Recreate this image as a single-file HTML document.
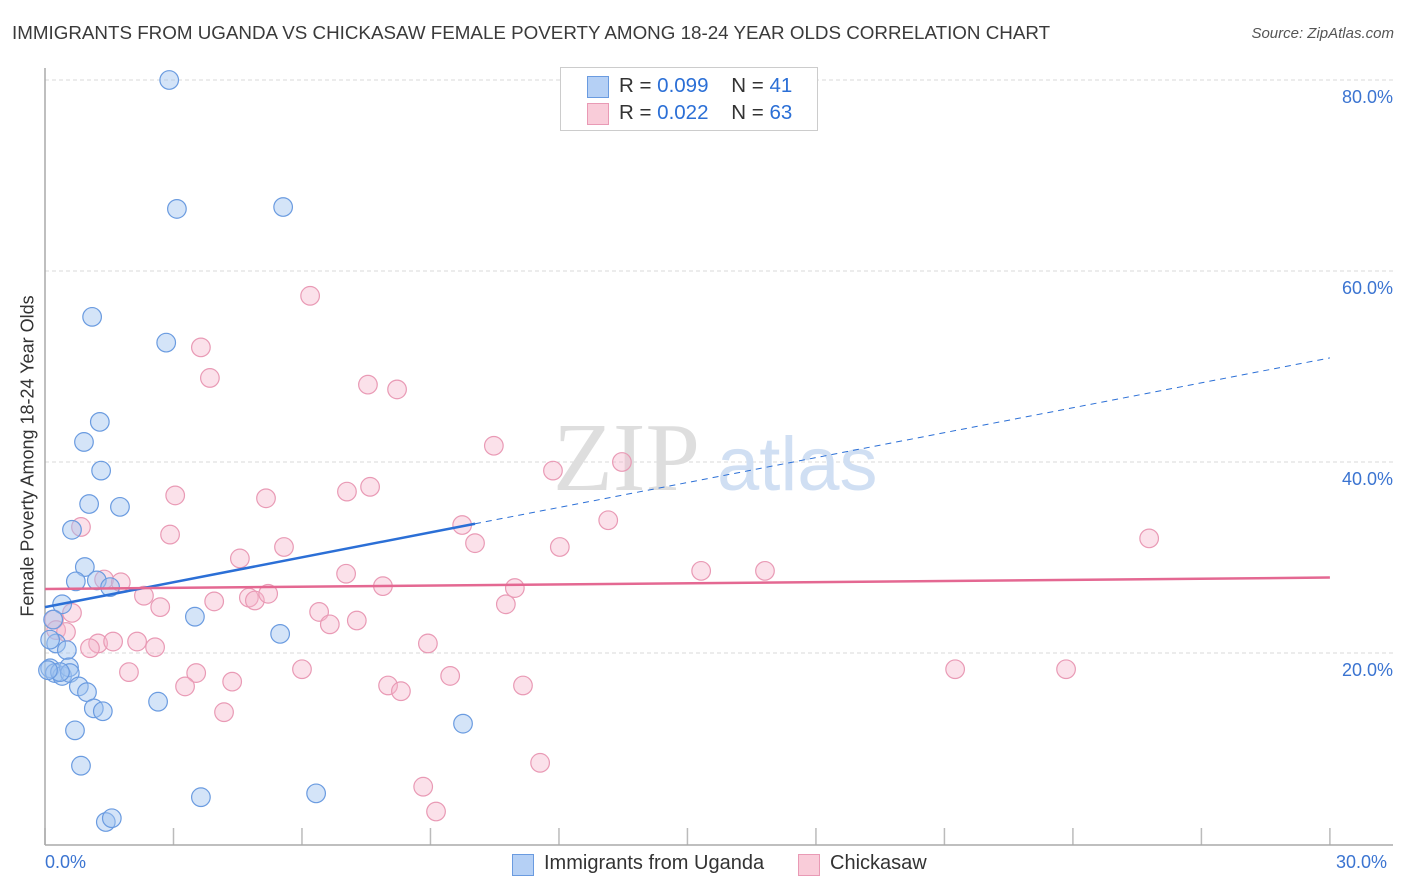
<!DOCTYPE html>
<html><head><meta charset="utf-8"><style>
body{margin:0;background:#fff;font-family:"Liberation Sans",sans-serif}
#c{position:relative;width:1406px;height:892px}
.t{position:absolute;white-space:nowrap}
</style></head><body>
<div id="c">
<div class="t" style="left:12px;top:22px;font-size:18.8px;color:#3a3a3a">IMMIGRANTS FROM UGANDA VS CHICKASAW FEMALE POVERTY AMONG 18-24 YEAR OLDS CORRELATION CHART</div>
<div class="t" style="right:12px;top:25px;font-size:15px;color:#555;font-style:italic">Source: ZipAtlas.com</div>
<svg id="s" width="1406" height="892" style="position:absolute;left:0;top:0"></svg>
</div>
<script>
const xTicks=[0,3,6,9,12,15,18,21,24,27,30];
const yTicks=[20,40,60,80];
const yTickLabels=["20.0%","40.0%","60.0%","80.0%"];
const ugandaX=[2.90,3.08,5.56,1.10,2.83,1.28,0.91,1.31,1.03,1.75,0.63,0.93,0.72,1.21,1.52,0.40,3.50,5.49,0.19,0.26,0.51,0.12,0.23,0.40,0.56,0.58,0.79,0.98,1.14,1.35,2.64,0.70,9.76,0.84,3.64,6.33,1.42,1.56,0.12,0.35,0.07];
const ugandaY=[80.0,66.5,66.7,55.2,52.5,44.2,42.1,39.1,35.6,35.3,32.9,29.0,27.5,27.6,26.9,25.1,23.8,22.0,23.5,21.0,20.3,18.4,17.9,17.6,18.5,17.9,16.5,15.9,14.2,13.9,14.9,11.9,12.6,8.2,4.9,5.3,2.3,2.7,21.4,18.0,18.2];
const chickX=[6.19,3.64,3.85,7.54,8.22,10.48,11.86,13.47,3.04,5.16,7.05,7.59,9.74,13.15,25.78,0.84,2.92,10.04,12.02,4.55,5.58,7.03,15.32,16.81,1.38,1.77,7.89,10.97,2.31,3.95,4.76,4.90,5.21,2.69,6.40,10.76,0.63,0.21,0.26,0.49,6.65,7.28,1.24,1.05,1.59,2.15,2.57,8.94,1.96,3.53,6.00,4.37,3.27,8.01,8.31,9.46,11.16,4.18,21.25,23.84,11.56,8.83,9.13];
const chickY=[57.4,52.0,48.8,48.1,47.6,41.7,39.1,40.0,36.5,36.2,36.9,37.4,33.4,33.9,32.0,33.2,32.4,31.5,31.1,29.9,31.1,28.3,28.6,28.6,27.7,27.4,27.0,26.8,26.0,25.4,25.8,25.5,26.2,24.8,24.3,25.1,24.2,23.5,22.4,22.2,23.0,23.4,21.0,20.5,21.2,21.2,20.6,21.0,18.0,17.9,18.3,17.0,16.5,16.6,16.0,17.6,16.6,13.8,18.3,18.3,8.5,6.0,3.4];
const ugTrend=[24.8,50.9], ugSolidEnd=10.04;
const chTrend=[26.7,27.9];
const X=v=>45+v*42.83, Y=v=>844-v*9.55;
const s=document.getElementById('s'),NS='http://www.w3.org/2000/svg';
function el(t,a){const e=document.createElementNS(NS,t);for(const k in a)e.setAttribute(k,a[k]);s.appendChild(e);return e;}
yTicks.forEach((v,i)=>{
 const g=el('line',{x1:45,x2:1393,y1:Y(v),y2:Y(v),stroke:'#d8d8d8','stroke-dasharray':'4,3'});
 
 
 const t=el('text',{x:1393,y:Y(v)+23,'text-anchor':'end','font-size':18,fill:'#3b74d1','font-family':'Liberation Sans'});
 t.textContent=yTickLabels[i];
 
 
});
xTicks.forEach(v=>{
 const l=el('line',{x1:X(v),x2:X(v),y1:828,y2:845,stroke:'#bbb','stroke-width':1.5});
 
 
});
el('line',{x1:45,x2:45,y1:68,y2:845,stroke:'#aaa','stroke-width':1.5});
el('line',{x1:45,x2:1393,y1:845,y2:845,stroke:'#aaa','stroke-width':1.5});
const wm=el('text',{x:553,y:490,'font-size':98,fill:'#dedede','font-family':'Liberation Serif'});wm.textContent='ZIP';

const wm2=el('text',{x:717,y:490,'font-size':76,fill:'#d0dff3','font-family':'Liberation Sans'});wm2.textContent='atlas';

chickX.forEach((v,i)=>{const c=el('circle',{cx:X(v),cy:Y(chickY[i]),r:9.3,fill:'rgba(246,180,202,0.4)',stroke:'#e99ab5','stroke-width':1.2});
 
 });
ugandaX.forEach((v,i)=>{const c=el('circle',{cx:X(v),cy:Y(ugandaY[i]),r:9.3,fill:'rgba(160,196,240,0.45)',stroke:'#6a9be0','stroke-width':1.2});
 
 });
const ugAt=v=>ugTrend[0]+(ugTrend[1]-ugTrend[0])*v/30;
el('line',{x1:X(0),y1:Y(ugAt(0)),x2:X(ugSolidEnd),y2:Y(ugAt(ugSolidEnd)),stroke:'#2b6fd6','stroke-width':2.5});
el('line',{x1:X(ugSolidEnd),y1:Y(ugAt(ugSolidEnd)),x2:X(30),y2:Y(ugAt(30)),stroke:'#2b6fd6','stroke-width':1,'stroke-dasharray':'6,5'});
el('line',{x1:X(0),y1:Y(chTrend[0]),x2:X(30),y2:Y(chTrend[1]),stroke:'#e46892','stroke-width':2.5});
</script>
<div class="t" style="left:28px;top:456px;font-size:18px;color:#333;transform:translate(-50%,-50%) rotate(-90deg)">Female Poverty Among 18-24 Year Olds</div>
<div class="t" style="left:45px;top:852px;font-size:18px;color:#3b74d1">0.0%</div>
<div class="t" style="left:1336px;top:852px;font-size:18px;color:#3b74d1">30.0%</div>
<div style="position:absolute;left:560px;top:67px;width:256px;height:62px;border:1px solid #ccc;background:#fff;font-size:20.5px;color:#333">
 <div style="position:absolute;left:26px;top:8px;width:20px;height:20px;background:#b5d0f5;border:1px solid #6a9be0"></div>
 <div class="t" style="left:58px;top:6px">R = <span style="color:#2b6fd6">0.099</span>&nbsp;&nbsp;&nbsp; N = <span style="color:#2b6fd6">41</span></div>
 <div style="position:absolute;left:26px;top:35px;width:20px;height:20px;background:#f9ccd9;border:1px solid #e99ab5"></div>
 <div class="t" style="left:58px;top:33px">R = <span style="color:#2b6fd6">0.022</span>&nbsp;&nbsp;&nbsp; N = <span style="color:#2b6fd6">63</span></div>
</div>
<div style="position:absolute;left:512px;top:852px;font-size:20px;color:#333">
 <div style="position:absolute;left:0;top:2px;width:20px;height:20px;background:#b5d0f5;border:1px solid #6a9be0"></div>
 <div class="t" style="left:32px;top:0">Immigrants from Uganda</div>
 <div style="position:absolute;left:286px;top:2px;width:20px;height:20px;background:#f9ccd9;border:1px solid #e99ab5"></div>
 <div class="t" style="left:318px;top:0">Chickasaw</div>
</div>
</body></html>
